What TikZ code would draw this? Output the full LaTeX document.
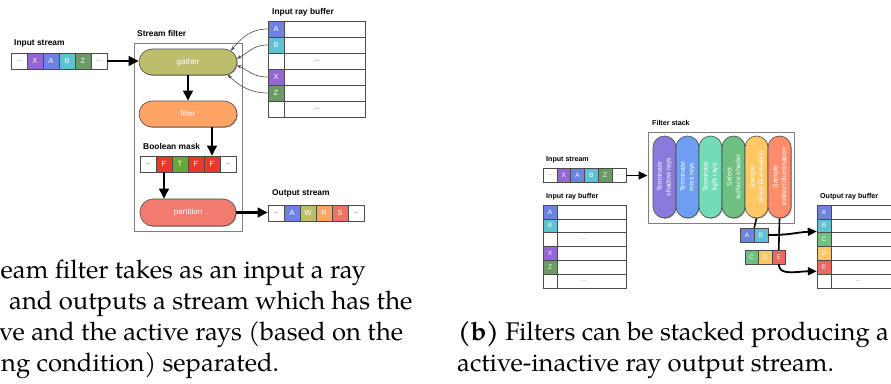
\documentclass[tikz,border=0pt]{standalone}
\usepackage{fontspec}
\setmainfont{TeX Gyre Pagella}
\setsansfont{Liberation Sans}
\usetikzlibrary{arrows.meta,shadows,calc}

% palette
\definecolor{edge}{HTML}{4A4A4A}
\definecolor{framec}{HTML}{7E7E7E}
\definecolor{dotc}{HTML}{555555}
\definecolor{rayX}{HTML}{9466D4}
\definecolor{rayA}{HTML}{6E82E2}
\definecolor{rayB}{HTML}{5EC2D2}
\definecolor{rayZ}{HTML}{6C9A66}
\definecolor{gatherc}{HTML}{BDBE6C}
\definecolor{filterc}{HTML}{FFA464}
\definecolor{partc}{HTML}{F27B70}
\definecolor{maskF}{HTML}{E8392C}
\definecolor{maskT}{HTML}{6AA834}
\definecolor{outW}{HTML}{BDBE6C}
\definecolor{outR}{HTML}{FFA464}
\definecolor{outS}{HTML}{F07064}
\definecolor{pkA}{HTML}{8A7ADC}
\definecolor{pkB}{HTML}{6C9EF2}
\definecolor{pkC}{HTML}{72DCB8}
\definecolor{pkD}{HTML}{6EC080}
\definecolor{pkE}{HTML}{FFC864}
\definecolor{pkF}{HTML}{FF8C6A}
\definecolor{outC}{HTML}{6EC080}
\definecolor{outD}{HTML}{FFC864}
\definecolor{outE}{HTML}{F0665E}

\tikzset{
  softshadow/.style={drop shadow={shadow xshift=0.9pt,shadow yshift=-0.9pt,opacity=0.3,fill=black}},
  cellbox/.style={draw=edge,line width=0.6pt,inner sep=0pt,text=white,softshadow},
  cellL/.style={cellbox,minimum width=16pt,minimum height=16pt,font=\sffamily\fontsize{7.5}{8}\selectfont},
  cellR/.style={cellbox,minimum width=13.8pt,minimum height=13.8pt,font=\sffamily\fontsize{6.5}{7}\selectfont},
  dotL/.style={cellL,fill=white,text=dotc,font=\sffamily\fontsize{6}{7}\selectfont},
  dotR/.style={cellR,fill=white,text=dotc,font=\sffamily\fontsize{5}{6}\selectfont},
  pillL/.style={draw=edge,line width=0.6pt,rounded corners=13pt,minimum width=98pt,minimum height=26pt,inner sep=0pt,text=white,font=\sffamily\fontsize{8}{9}\selectfont,softshadow},
  pillR/.style={draw=edge,line width=0.6pt,rounded corners=11.5pt,minimum width=82pt,minimum height=23pt,rotate=90,text=white,align=center,inner sep=0pt,font=\sffamily\fontsize{6.8}{8.8}\selectfont,softshadow},
  framebox/.style={draw=framec,line width=0.8pt,fill=white,inner sep=0pt,softshadow},
  lblL/.style={anchor=west,inner sep=0pt,font=\sffamily\bfseries\fontsize{8.4}{10}\selectfont},
  lblR/.style={anchor=west,inner sep=0pt,font=\sffamily\bfseries\fontsize{7.1}{8}\selectfont},
  bigarrow/.style={line width=2.2pt,-{Triangle[length=10pt,width=9.5pt]}},
  midarrow/.style={line width=1.8pt,-{Triangle[length=9pt,width=8pt]}},
  thinarrow/.style={draw=edge,line width=0.6pt,-{Stealth[length=4.5pt,width=3.5pt]}},
  linkline/.style={line width=1.6pt},
  captext/.style={anchor=base west,inner sep=0pt,font=\fontsize{25.6}{31}\selectfont},
}

\begin{document}
\begin{tikzpicture}[x=1pt,y=-1pt]
\useasboundingbox (0,0) rectangle (891,383);
\fill[white] (0,0) rectangle (891,383);
\clip (0,0) rectangle (891,383);

% ---------------- stream filter ----------------
\node[lblL] (lInL) at (14,43) {Input stream};
\node[dotL] (lin1) at (19,61) {...};
\node[cellL,fill=rayX] (lin2) at (35,61) {X};
\node[cellL,fill=rayA] (lin3) at (51,61) {A};
\node[cellL,fill=rayB] (lin4) at (67,61) {B};
\node[cellL,fill=rayZ] (lin5) at (83,61) {Z};
\node[dotL] (lin6) at (99,61) {...};

\node[lblL] (lSF) at (137,33) {Stream filter};
\node[framebox,minimum width=108pt,minimum height=188pt] (sfbox) at (188,137) {};

\node[pillL,fill=gatherc] (gather) at (188,62) {gather};
\node[pillL,fill=filterc] (filter) at (188,114) {filter};

\node[lblL] (lBM) at (143,146) {Boolean mask};
\node[dotL] (mk1) at (148,164) {...};
\node[cellL,fill=maskF] (mk2) at (164,164) {F};
\node[cellL,fill=maskT] (mk3) at (180,164) {T};
\node[cellL,fill=maskF] (mk4) at (196,164) {F};
\node[cellL,fill=maskF] (mk5) at (212,164) {F};
\node[dotL] (mk6) at (228,164) {...};

\node[pillL,fill=partc,minimum width=96pt,minimum height=27pt] (part) at (188,212.5) {partition};

\node[lblL] (lOS) at (272,193) {Output stream};
\node[dotL] (os1) at (276,213) {...};
\node[cellL,fill=rayA] (os2) at (292,213) {A};
\node[cellL,fill=outW] (os3) at (308,213) {W};
\node[cellL,fill=outR] (os4) at (324,213) {R};
\node[cellL,fill=outS] (os5) at (340,213) {S};
\node[dotL] (os6) at (356,213) {...};

% input ray buffer (two columns)
\node[lblL] (lIRB) at (272,12) {Input ray buffer};
\tikzset{wideL/.style={cellL,fill=white,minimum width=81pt,text=dotc,font=\sffamily\fontsize{6}{7}\selectfont}}
\node[cellL,fill=rayA] (ra1) at (276,29) {A};  \node[wideL] (rw1) at (324.5,29) {};
\node[cellL,fill=rayB] (ra2) at (276,45) {B};  \node[wideL] (rw2) at (324.5,45) {};
\node[cellL,fill=white] (ra3) at (276,61) {};  \node[wideL] (rw3) at (324.5,61) {\hspace*{-15pt}...};
\node[cellL,fill=rayX] (ra4) at (276,77) {X};  \node[wideL] (rw4) at (324.5,77) {};
\node[cellL,fill=rayZ] (ra5) at (276,93) {Z};  \node[wideL] (rw5) at (324.5,93) {};
\node[cellL,fill=white] (ra6) at (276,109) {}; \node[wideL] (rw6) at (324.5,109) {\hspace*{-15pt}...};

% where the gathered rays enter the gather stage
\coordinate (tipA) at ($(gather.east)+(-6.5,-11.3)$);
\coordinate (tipB) at ($(gather.east)+(-0.4,-3.4)$);
\coordinate (tipX) at ($(gather.east)+(-0.4,3.4)$);
\coordinate (tipZ) at ($(gather.east)+(-9.6,12.6)$);
\draw[thinarrow] (ra1.west) .. controls +(-20,0) and +(8,-9) .. (tipA);
\draw[thinarrow] (ra2.west) .. controls +(-15,0) and +(12,-6) .. (tipB);
\draw[thinarrow] (ra4.west) .. controls +(-15,0) and +(12,5) .. (tipX);
\draw[thinarrow] (ra5.west) .. controls +(-20,0) and +(8,8) .. (tipZ);

\draw[bigarrow] (lin6.east) -- (lin6.east -| gather.west);
\draw[bigarrow] (gather.south) -- (filter.north);
\draw[bigarrow] (mk5.north |- filter.south) -- (mk5.north);
\draw[bigarrow] (mk2.south) -- (mk2.south |- part.north);
\draw[bigarrow] (part.east) -- (part.east -| os1.west);

% ---------------- filter stack ----------------
\node[lblR] (lFS) at (652,123) {Filter stack};
\node[framebox,minimum width=146pt,minimum height=91pt] (fstack) at (721,177.5) {};
\node[pillR,fill=pkA] (pk1) at (664.5,177) {Terminate\\shadow rays};
\node[pillR,fill=pkB] (pk2) at (687.5,177) {Terminate\\miss rays};
\node[pillR,fill=pkC] (pk3) at (710.5,177) {Terminate\\light rays};
\node[pillR,fill=pkD] (pk4) at (733.5,177) {Select\\surface shader};
\node[pillR,fill=pkE] (pk5) at (756.5,177) {Sample\\direct illumination};
\node[pillR,fill=pkF] (pk6) at (779.5,177) {Sample\\indirect illumination};

\node[lblR] (lInR) at (546,160) {Input stream};
\node[dotR] (ris1) at (549.9,175.5) {...};
\node[cellR,fill=rayX] (ris2) at (563.7,175.5) {X};
\node[cellR,fill=rayA] (ris3) at (577.5,175.5) {A};
\node[cellR,fill=rayB] (ris4) at (591.3,175.5) {B};
\node[cellR,fill=rayZ] (ris5) at (605.1,175.5) {Z};
\node[dotR] (ris6) at (618.9,175.5) {...};
\draw[midarrow] (ris6.east) -- (ris6.east -| fstack.west);

% input ray buffer
\node[lblR] (lIRBr) at (546,197) {Input ray buffer};
\tikzset{wideR/.style={cellR,fill=white,minimum width=69pt,text=dotc,font=\sffamily\fontsize{5}{6}\selectfont}}
\node[cellR,fill=rayA] (ia1) at (550,211.9) {A};  \node[wideR] (iw1) at (591.5,211.9) {};
\node[cellR,fill=rayB] (ia2) at (550,225.7) {B};  \node[wideR] (iw2) at (591.5,225.7) {};
\node[cellR,fill=white] (ia3) at (550,239.5) {};  \node[wideR] (iw3) at (591.5,239.5) {\hspace*{-15pt}...};
\node[cellR,fill=rayX] (ia4) at (550,253.3) {X};  \node[wideR] (iw4) at (591.5,253.3) {};
\node[cellR,fill=rayZ] (ia5) at (550,267.1) {Z};  \node[wideR] (iw5) at (591.5,267.1) {};
\node[cellR,fill=white] (ia6) at (550,280.9) {}; \node[wideR] (iw6) at (591.5,280.9) {\hspace*{-15pt}...};

% output ray buffer
\node[lblR] (lORB) at (820,197) {Output ray buffer};
\tikzset{wideO/.style={cellR,fill=white,minimum width=69pt,text=dotc,font=\sffamily\fontsize{5}{6}\selectfont}}
\node[cellR,fill=rayA] (ob1) at (824,211.9) {A};  \node[wideO] (ow1) at (865.5,211.9) {};
\node[cellR,fill=rayB] (ob2) at (824,225.7) {B};  \node[wideO] (ow2) at (865.5,225.7) {};
\node[cellR,fill=outC] (ob3) at (824,239.5) {C};  \node[wideO] (ow3) at (865.5,239.5) {};
\node[cellR,fill=outD] (ob4) at (824,253.3) {D};  \node[wideO] (ow4) at (865.5,253.3) {};
\node[cellR,fill=outE] (ob5) at (824,267.1) {E};  \node[wideO] (ow5) at (865.5,267.1) {};
\node[cellR,fill=white] (ob6) at (824,280.9) {}; \node[wideO] (ow6) at (865.5,280.9) {\hspace*{-15pt}...};

% active / inactive outputs of the stack
\node[cellR,fill=rayA] (ab1) at (747,235) {A};
\node[cellR,fill=rayB] (ab2) at (761,235) {B};
\node[cellR,fill=outC,minimum width=13.5pt] (cd1) at (751.75,257) {C};
\node[cellR,fill=outD,minimum width=13.5pt] (cd2) at (765.25,257) {D};
\node[cellR,fill=outE,minimum width=13.5pt] (cd3) at (778.75,257) {E};

\draw[linkline] (pk5.west) -- (ab1.north east);
\draw[linkline] (pk6.west) -- (cd3.north);
\draw[midarrow] (ab2.east) .. controls +(24,0) and +(-22,1) .. ([yshift=1.5pt]ob2.south west);
\draw[midarrow] (cd3.south) .. controls +(0,12) and +(-20,0) .. ([yshift=3pt]ob5.south west);

% ---------------- captions ----------------
\node[captext] (capa1) at (0.5,278) {eam filter takes as an input a ray};
\node[captext] (capa2) at (9,309) {and outputs a stream which has the};
\node[captext] (capa3) at (-1,340) {ve and the active rays (based on the};
\node[captext] (capa4) at (1,371) {ng condition) separated.};
\node[captext] (capb1) at (458,340) {\textbf{(b)} Filters can be stacked producing a};
\node[captext] (capb2) at (457,371) {active-inactive ray output stream.};
\end{tikzpicture}
\end{document}
